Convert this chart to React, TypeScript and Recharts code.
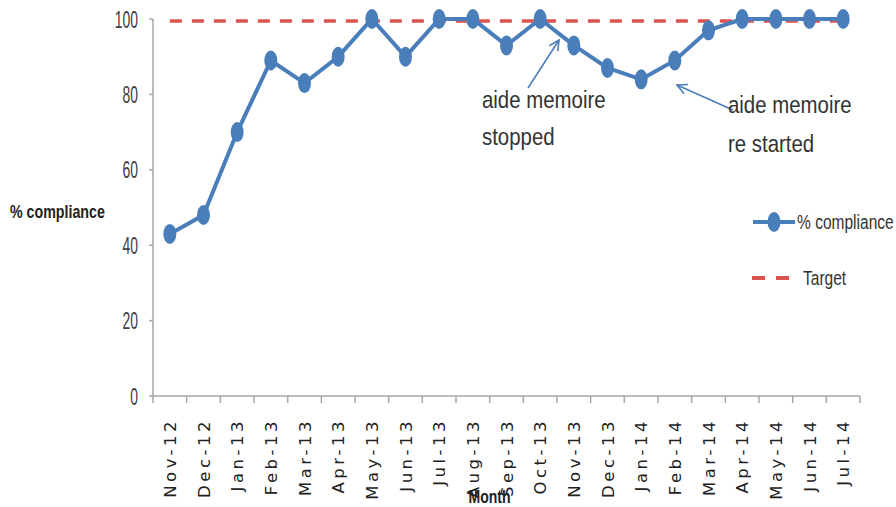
import React from 'react';
import { LineChart, Line, XAxis, YAxis } from 'recharts';

// monthly audit results
const months = [
  'Nov-12', 'Dec-12', 'Jan-13', 'Feb-13', 'Mar-13', 'Apr-13', 'May-13', 'Jun-13', 'Jul-13', 'Aug-13', 'Sep-13',
  'Oct-13', 'Nov-13', 'Dec-13', 'Jan-14', 'Feb-14', 'Mar-14', 'Apr-14', 'May-14', 'Jun-14', 'Jul-14',
];
const compliance = [43, 48, 70, 89, 83, 90, 100, 90, 100, 100, 93, 100, 93, 87, 84, 89, 97, 100, 100, 100, 100];
const target = [
  99.5, 99.5, 99.5, 99.5, 99.5, 99.5, 99.5, 99.5, 99.5, 99.5, 99.5,
  99.5, 99.5, 99.5, 99.5, 99.5, 99.5, 99.5, 99.5, 99.5, 99.5,
];
const yTicks = [0, 20, 40, 60, 80, 100];
const seriesNames = ['% compliance', 'Target'];
const notes = [
  ['aide memoire', 'stopped'],
  ['aide memoire', 're started'],
];

const data = months.map((m, i) => ({ month: m, compliance: compliance[i], target: target[i] }));

const W = 896;
const H = 507;
const Y_W = 153;
const M_RIGHT = 36;
const X_H = 111;
const BAND = (W - Y_W - M_RIGHT) / months.length;

const BLUE = '#4A7EBB';
const RED = '#D9534F';
const AXIS = '#A6A6A6';
const SANS = '"Liberation Sans", Arial, sans-serif';

// the original uses a tall condensed face, so squeeze a normal one horizontally
const SqText = ({ x, y, sx, size, bold, anchor, fill, children }: any) => (
  <text
    transform={`translate(${x},${y}) scale(${sx},1)`}
    fontFamily={SANS}
    fontSize={size}
    fontWeight={bold ? 'bold' : 'normal'}
    textAnchor={anchor || 'start'}
    fill={fill || '#333'}
  >
    {children}
  </text>
);

const Dot = (props: any) => {
  const { cx, cy } = props;
  if (cx == null || cy == null) return null;
  return <ellipse cx={cx} cy={cy} rx={6.5} ry={10} fill={BLUE} />;
};

const ValueTick = (props: any) => {
  const { x, y, payload } = props;
  return (
    <SqText x={x} y={y + 8.5} sx={0.58} size={24} anchor="end" fill="#404040">
      {payload.value}
    </SqText>
  );
};

const MonthTick = (props: any) => {
  const { x, y, payload, index } = props;
  const half = BAND / 2;
  return (
    <g>
      <line x1={x - half} x2={x - half} y1={y} y2={y + 7} stroke={AXIS} strokeWidth={1.5} />
      {index === months.length - 1 && (
        <line x1={x + half} x2={x + half} y1={y} y2={y + 7} stroke={AXIS} strokeWidth={1.5} />
      )}
      <text
        transform={`translate(${x + 6},${y + 22}) rotate(-90)`}
        textAnchor="end"
        fontFamily='"DejaVu Sans", sans-serif'
        fontSize={16.5}
        letterSpacing={3.5}
        fill="#222"
      >
        {payload.value}
      </text>
    </g>
  );
};

const MonthTitle = (props: any) => {
  const { viewBox } = props;
  const cx = viewBox.x + viewBox.width / 2 - 17;
  return (
    <SqText x={cx} y={viewBox.y + viewBox.height - 4} sx={0.78} size={18} bold anchor="middle" fill="#222">
      Month
    </SqText>
  );
};

export default function App() {
  return (
    <div style={{ position: 'absolute', left: 0, top: 0, width: W, height: H, background: '#fff' }}>
      <LineChart width={W} height={H} data={data} margin={{ top: 19, right: M_RIGHT, bottom: 0, left: 0 }}>
        <XAxis
          dataKey="month"
          height={X_H}
          interval={0}
          padding={{ left: BAND / 2, right: BAND / 2 }}
          axisLine={{ stroke: AXIS, strokeWidth: 1.5 }}
          tickLine={false}
          tickSize={0}
          tickMargin={0}
          tick={<MonthTick />}
          label={<MonthTitle />}
        />
        <YAxis
          width={Y_W}
          domain={[0, 100]}
          ticks={yTicks}
          interval={0}
          axisLine={{ stroke: AXIS, strokeWidth: 1.5 }}
          tickLine={{ stroke: AXIS, strokeWidth: 1.5 }}
          tickSize={4}
          tickMargin={11}
          tick={<ValueTick />}
        />
        <Line
          dataKey="target"
          name={seriesNames[1]}
          stroke={RED}
          strokeWidth={3.5}
          strokeDasharray="12 10"
          dot={false}
          activeDot={false}
          isAnimationActive={false}
        />
        <Line
          dataKey="compliance"
          name={seriesNames[0]}
          stroke={BLUE}
          strokeWidth={4}
          dot={<Dot />}
          activeDot={false}
          isAnimationActive={false}
        />
      </LineChart>

      <svg
        width={W}
        height={H}
        style={{ position: 'absolute', left: 0, top: 0, pointerEvents: 'none' }}
      >
        <defs>
          <marker id="open" viewBox="0 0 12 12" refX={11} refY={6} markerWidth={12} markerHeight={12} markerUnits="userSpaceOnUse" orient="auto">
            <path d="M1,1 L11,6 L1,11" fill="none" stroke={BLUE} strokeWidth={1.6} />
          </marker>
        </defs>

        {/* y axis title */}
        <SqText x={10} y={218} sx={0.79} size={18} bold fill="#222">
          % compliance
        </SqText>

        {/* annotations */}
        <line x1={528} y1={88} x2={559} y2={40} stroke={BLUE} strokeWidth={1.6} markerEnd="url(#open)" />
        <SqText x={482} y={108} sx={0.85} size={24}>{notes[0][0]}</SqText>
        <SqText x={482} y={145} sx={0.85} size={24}>{notes[0][1]}</SqText>
        <line x1={733} y1={110} x2={677} y2={85} stroke={BLUE} strokeWidth={1.6} markerEnd="url(#open)" />
        <SqText x={728} y={113} sx={0.85} size={24}>{notes[1][0]}</SqText>
        <SqText x={728} y={152} sx={0.85} size={24}>{notes[1][1]}</SqText>

        {/* legend */}
        <line x1={753} x2={795} y1={222} y2={222} stroke={BLUE} strokeWidth={4} />
        <ellipse cx={774} cy={222} rx={6.5} ry={10} fill={BLUE} />
        <SqText x={797} y={229} sx={0.74} size={21}>{seriesNames[0]}</SqText>
        <line x1={752} x2={790} y1={278} y2={278} stroke={RED} strokeWidth={4} strokeDasharray="13 11" />
        <SqText x={803} y={285} sx={0.74} size={21}>{seriesNames[1]}</SqText>
      </svg>
    </div>
  );
}
